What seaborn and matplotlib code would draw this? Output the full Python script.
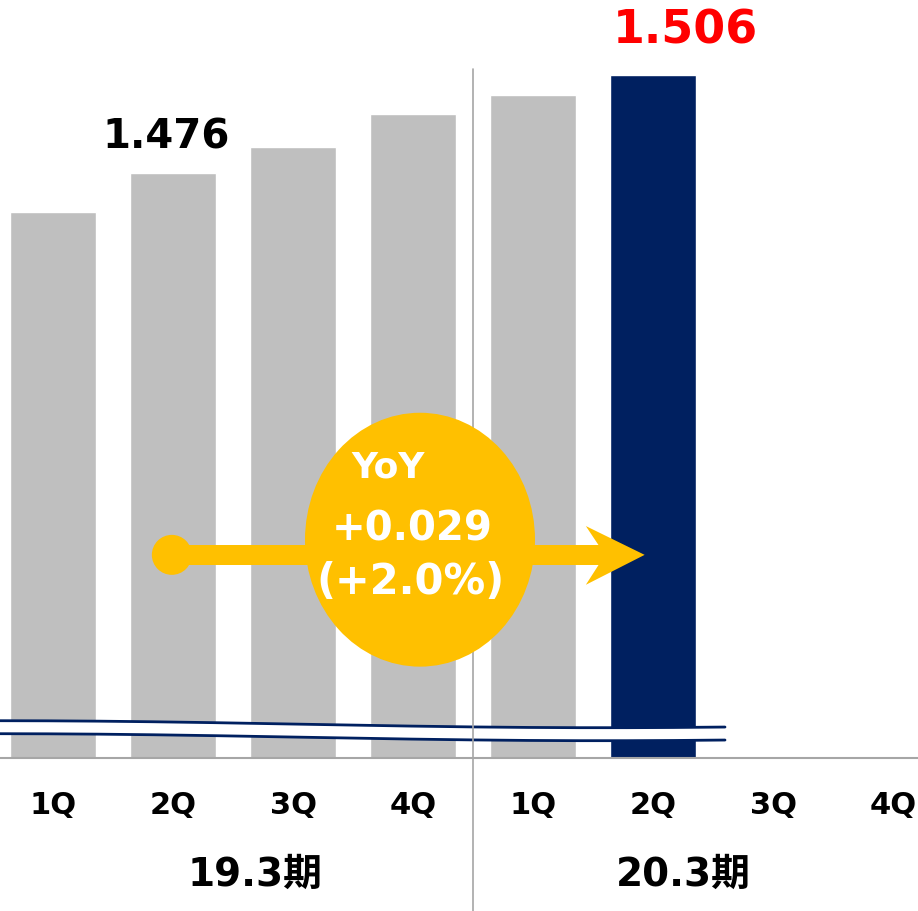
import numpy as np
import pandas as pd
import matplotlib
matplotlib.use("Agg")
import matplotlib.pyplot as plt
from matplotlib.patches import Ellipse, Polygon, Rectangle
from matplotlib.transforms import blended_transform_factory
import seaborn as sns

# data (values in trillion-ish units)
slots = [0, 1, 2, 3, 4, 5]
values = [1.464, 1.476, 1.484, 1.494, 1.500, 1.506]
bar_colors = ["#BFBFBF", "#BFBFBF", "#BFBFBF", "#BFBFBF", "#BFBFBF", "#002060"]
quarter_labels = ["1Q", "2Q", "3Q", "4Q", "1Q", "2Q", "3Q", "4Q"]
period_labels = ["19.3期", "20.3期"]
period_pos = [1.68, 5.25]
yoy_labels = ["YoY", "+0.029", "(+2.0%)"]

NAVY = "#002060"
YELLOW = "#FFC000"
FONT = ["DejaVu Sans", "Noto Sans CJK JP"]

sns.set_style("white")
plt.rcParams["font.family"] = FONT
plt.rcParams["font.weight"] = "bold"

df = pd.DataFrame({"slot": slots, "value": values})

fig = plt.figure(figsize=(9.18, 9.11), dpi=100)
ax = fig.add_axes([0, 153 / 911, 1, 758 / 911])

sns.barplot(
    data=df, x="slot", y="value", hue="slot", palette=bar_colors,
    native_scale=True, width=0.717, legend=False, ax=ax, saturation=1,
    zorder=2,
)

ax.set_xlim(-0.442, 7.208)
ax.set_ylim(1.2971, 1.529)
ax.set_xlabel("")
ax.set_ylabel("")
ax.set_yticks([])
ax.set_xticks(range(len(quarter_labels)))
ax.set_xticklabels(quarter_labels, fontsize=22, fontweight="bold", color="black")
ax.tick_params(axis="x", length=0, pad=24)
for side in ["top", "left", "right"]:
    ax.spines[side].set_visible(False)
ax.spines["bottom"].set_color("#A6A6A6")
ax.spines["bottom"].set_linewidth(1.5)

trans = blended_transform_factory(ax.transData, ax.transAxes)

# divider between fiscal years
ax.plot([3.5, 3.5], [-0.2014, 0.909], transform=trans, color="#A6A6A6",
        lw=1.2, clip_on=False, zorder=4)

# period labels
for pos, lab in zip(period_pos, period_labels):
    ax.text(pos, -0.154, lab, transform=trans, ha="center", va="center",
            fontsize=28, fontweight="bold", color="black", clip_on=False)

# value labels
ax.annotate(f"{values[1]:.3f}", xy=(slots[1], values[1]), xytext=(-5, 26),
            textcoords="offset points", ha="center", va="center",
            fontsize=29, fontweight="bold", color="black")
ax.annotate(f"{values[5]:.3f}", xy=(slots[5], values[5]), xytext=(23, 32),
            textcoords="offset points", ha="center", va="center",
            fontsize=33, fontweight="bold", color="#FF0000",
            annotation_clip=False)

# axis break (wavy band)
xa = np.linspace(0, 725 / 918, 200)
t = xa / xa.max()
upper_px = 724.5 - 3.5 * np.cos(1.2 * np.pi * t)
lower_px = upper_px + 13
upper = (758.3 - upper_px) / 758.3
lower = (758.3 - lower_px) / 758.3
ax.fill_between(xa, lower, upper, transform=ax.transAxes, color="white",
                zorder=3, lw=0)
ax.plot(xa, upper, transform=ax.transAxes, color=NAVY, lw=2, zorder=3.5)
ax.plot(xa, lower, transform=ax.transAxes, color=NAVY, lw=2, zorder=3.5)

# YoY arrow from 2Q 19.3 to 2Q 20.3
ya = 0.268
half = 10 / 758.3
x0 = slots[1] - 0.01
ax.add_patch(Ellipse((x0, ya), 40 / 120, 40 / 758.3, transform=trans,
                     color=YELLOW, zorder=5, lw=0))
ax.add_patch(Rectangle((x0, ya - half), 4.6 - x0, 2 * half, transform=trans,
                       color=YELLOW, zorder=5, lw=0))
ax.add_patch(Polygon([[4.93, ya], [4.44, 0.306], [4.6, ya], [4.44, 0.2285]],
                     closed=True, transform=trans, color=YELLOW, zorder=5,
                     lw=0))

# YoY bubble
ax.add_patch(Ellipse((3.058, 0.288), 230 / 120, 254 / 758.3, transform=trans,
                     color=YELLOW, zorder=6, lw=0))
ax.text(2.79, (758.3 - 468) / 758.3, yoy_labels[0], transform=trans,
        ha="center", va="center", fontsize=26, fontweight="bold",
        color="white", zorder=7)
ax.text(2.99, (758.3 - 530) / 758.3, yoy_labels[1], transform=trans,
        ha="center", va="center", fontsize=29, fontweight="bold",
        color="white", zorder=7)
ax.text(2.975, (758.3 - 582) / 758.3, yoy_labels[2], transform=trans,
        ha="center", va="center", fontsize=30, fontweight="bold",
        color="white", zorder=7)

fig.savefig("out.png", dpi=100)
